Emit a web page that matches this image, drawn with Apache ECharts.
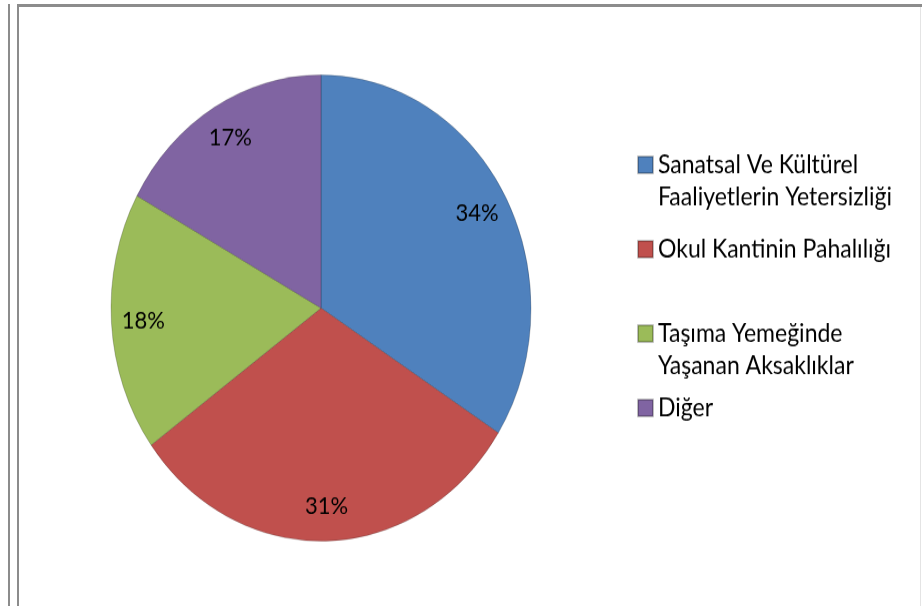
<!DOCTYPE html>
<html>
<head>
<meta charset="utf-8">
<script src="https://cdn.jsdelivr.net/npm/echarts@6/dist/echarts.min.js"></script>
<style>
  html, body { margin: 0; padding: 0; background: #fff; }
  #page { position: relative; width: 922px; height: 606px; overflow: hidden; background: #fff; }
  .vline { position: absolute; top: 4px; bottom: 0; width: 2px; background: #8c8c8c; }
  .hline { position: absolute; top: 4px; left: 17px; right: 0; height: 3px; background: #8c8c8c; }
  .rline { position: absolute; top: 7px; bottom: 0; right: 1px; width: 1px; background: #e4e4e4; }
  /* the original picture is stretched a bit in height */
  #chart { position: absolute; left: 0; top: 0; width: 922px; height: 546px; transform: scaleY(1.11); transform-origin: 0 0; }
</style>
</head>
<body>
<div id="page">
  <div class="vline" style="left:8px"></div>
  <div class="vline" style="left:17px"></div>
  <div class="hline"></div>
  <div class="rline"></div>
  <div id="chart"></div>
</div>
<script>
let categories = [
  'Sanatsal Ve Kültürel\nFaaliyetlerin Yetersizliği',
  'Okul Kantinin Pahalılığı',
  'Taşıma Yemeğinde\nYaşanan Aksaklıklar',
  'Diğer'
];
let values = [34, 31, 18, 17];
let colors = ['#4f81bd', '#c0504d', '#9bbb59', '#8064a2'];

let font = 'Lato, "Open Sans", sans-serif';
let pieData = categories.map(function (name, i) {
  return { name: name, value: values[i] };
});

// one legend per item so the spacing can follow the original
let legendTops = [105, 210, 257, 353];
let legends = categories.map(function (name, i) {
  let twoLines = name.indexOf('\n') >= 0;
  return {
    data: [name],
    orient: 'vertical',
    left: 637,
    top: legendTops[i],
    padding: 0,
    itemWidth: 15,
    itemHeight: 15,
    itemGap: 0,
    icon: 'rect',
    selectedMode: false,
    // empty first line so the icon sits next to the first text line
    formatter: function (n) {
      return twoLines ? '\n' + n : n;
    },
    textStyle: {
      fontFamily: font,
      fontSize: 23,
      color: '#000',
      lineHeight: 29
    }
  };
});

let myChart = echarts.init(document.getElementById('chart'));
myChart.setOption({
  color: colors,
  animation: false,
  legend: legends,
  series: [{
    name: 'pie',
    type: 'pie',
    center: [321, 277.5],
    radius: 210,
    startAngle: 90,
    label: { show: false },
    labelLine: { show: false },
    itemStyle: { borderColor: 'rgba(0,0,0,0.25)', borderWidth: 0.8 },
    emphasis: { disabled: true },
    data: pieData
  }, {
    name: 'labels',
    type: 'pie',
    center: [321, 277.5],
    radius: [140, 210],
    startAngle: 90,
    silent: true,
    itemStyle: { color: 'rgba(0,0,0,0)' },
    label: {
      show: true,
      position: 'inside',
      formatter: '{c}%',
      fontFamily: font,
      fontSize: 22,
      color: '#000'
    },
    labelLine: { show: false },
    emphasis: { disabled: true },
    data: pieData
  }]
});
</script>
</body>
</html>
